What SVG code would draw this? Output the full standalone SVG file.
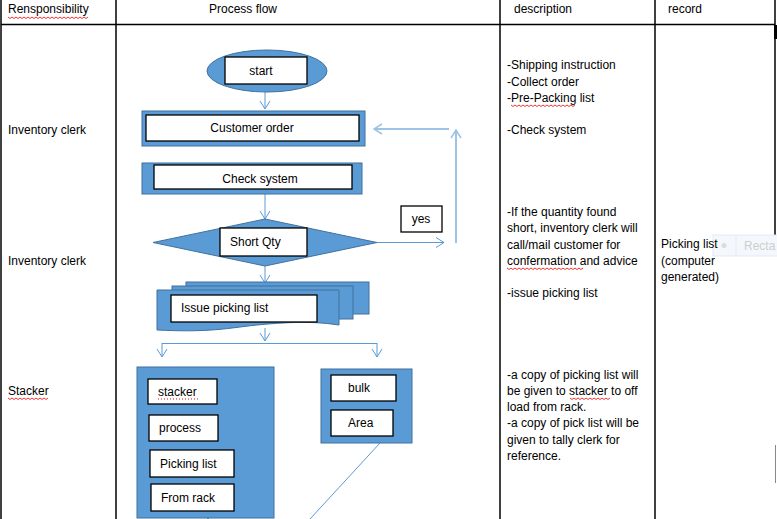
<svg xmlns="http://www.w3.org/2000/svg" width="777" height="519" viewBox="0 0 777 519">
<style>
text{font-family:"Liberation Sans",Arial,sans-serif;font-size:12px;fill:#000}
.grid{stroke:#000;stroke-width:1.5;fill:none}
.blue{fill:#5b9bd5;stroke:#41719c;stroke-width:1}
.box{fill:#fff;stroke:#000;stroke-width:1.3}
.con{stroke:#5b9bd5;stroke-width:1;fill:none}
.fb{stroke:#9dc3e6;stroke-width:2;fill:none}
.sq{stroke:#e00;stroke-width:0.8;fill:none}
</style>
<defs>
<marker id="ah" markerUnits="userSpaceOnUse" markerWidth="14" markerHeight="14" refX="9" refY="6" orient="auto">
<path d="M1,1 L9,6 L1,11" fill="none" stroke="#5b9bd5" stroke-width="1"/>
</marker>
<marker id="ahl" markerUnits="userSpaceOnUse" markerWidth="14" markerHeight="14" refX="9" refY="6" orient="auto">
<path d="M1,1 L9,6 L1,11" fill="none" stroke="#9dc3e6" stroke-width="1.5"/>
</marker>
</defs>

<g id="table">
<line class="grid" x1="1" y1="0" x2="1" y2="519"/>
<line class="grid" x1="116" y1="0" x2="116" y2="519"/>
<line class="grid" x1="500" y1="0" x2="500" y2="519"/>
<line class="grid" x1="655" y1="0" x2="655" y2="519"/>
<line class="grid" x1="775" y1="0" x2="775" y2="235"/>
<line x1="775.5" y1="445" x2="775.5" y2="483" stroke="#888" stroke-width="1"/>
<line class="grid" x1="1" y1="24.5" x2="775" y2="24.5"/>
<rect x="774" y="25" width="3" height="14" fill="#000"/>
<text x="8" y="13">Rensponsibility</text>
<text x="209" y="13">Process flow</text>
<text x="514" y="13">description</text>
<text x="668" y="13">record</text>
<path class="sq" d="M8,17 l2,1.5 l2,-1.5 l2,1.5 l2,-1.5 l2,1.5 l2,-1.5 l2,1.5 l2,-1.5 l2,1.5 l2,-1.5 l2,1.5 l2,-1.5 l2,1.5 l2,-1.5 l2,1.5 l2,-1.5 l2,1.5 l2,-1.5 l2,1.5 l2,-1.5 l2,1.5 l2,-1.5 l2,1.5 l2,-1.5 l2,1.5 l2,-1.5 l2,1.5 l2,-1.5 l2,1.5 l2,-1.5 l2,1.5 l2,-1.5 l2,1.5 l2,-1.5 l2,1.5 l2,-1.5 l2,1.5 l2,-1.5 l2,1.5 l2,-1.5"/>
</g>

<g id="responsibility">
<text x="8" y="134">Inventory clerk</text>
<text x="8" y="265">Inventory clerk</text>
<text x="8" y="395">Stacker</text>
<path class="sq" d="M8,398 l2,1.5 l2,-1.5 l2,1.5 l2,-1.5 l2,1.5 l2,-1.5 l2,1.5 l2,-1.5 l2,1.5 l2,-1.5 l2,1.5 l2,-1.5 l2,1.5 l2,-1.5 l2,1.5 l2,-1.5 l2,1.5 l2,-1.5 l2,1.5 l2,-1.5"/>
</g>

<g id="description">
<text x="507" y="69">-Shipping instruction</text>
<text x="507" y="86">-Collect order</text>
<text x="507" y="102">-Pre-Packing list</text>
<path class="sq" d="M511,105 l2,1.5 l2,-1.5 l2,1.5 l2,-1.5 l2,1.5 l2,-1.5 l2,1.5 l2,-1.5 l2,1.5 l2,-1.5 l2,1.5 l2,-1.5 l2,1.5 l2,-1.5 l2,1.5 l2,-1.5 l2,1.5 l2,-1.5 l2,1.5 l2,-1.5 l2,1.5 l2,-1.5 l2,1.5 l2,-1.5 l2,1.5 l2,-1.5 l2,1.5 l2,-1.5 l2,1.5 l2,-1.5 l2,1.5 l2,-1.5"/>
<text x="507" y="134">-Check system</text>
<text x="507" y="216">-If the quantity found</text>
<text x="507" y="232">short, inventory clerk will</text>
<text x="507" y="249">call/mail customer for</text>
<text x="507" y="265">confermation and advice</text>
<path class="sq" d="M507,268 l2,1.5 l2,-1.5 l2,1.5 l2,-1.5 l2,1.5 l2,-1.5 l2,1.5 l2,-1.5 l2,1.5 l2,-1.5 l2,1.5 l2,-1.5 l2,1.5 l2,-1.5 l2,1.5 l2,-1.5 l2,1.5 l2,-1.5 l2,1.5 l2,-1.5 l2,1.5 l2,-1.5 l2,1.5 l2,-1.5 l2,1.5 l2,-1.5 l2,1.5 l2,-1.5 l2,1.5 l2,-1.5 l2,1.5 l2,-1.5 l2,1.5 l2,-1.5 l2,1.5 l2,-1.5 l2,1.5 l2,-1.5"/>
<text x="507" y="297">-issue picking list</text>
<text x="507" y="379">-a copy of picking list will</text>
<text x="507" y="395">be given to stacker to off</text>
<path class="sq" d="M570,398 l2,1.5 l2,-1.5 l2,1.5 l2,-1.5 l2,1.5 l2,-1.5 l2,1.5 l2,-1.5 l2,1.5 l2,-1.5 l2,1.5 l2,-1.5 l2,1.5 l2,-1.5 l2,1.5 l2,-1.5 l2,1.5 l2,-1.5 l2,1.5 l2,-1.5"/>
<text x="507" y="411">load from rack.</text>
<text x="507" y="427">-a copy of pick list will be</text>
<text x="507" y="444">given to tally clerk for</text>
<text x="507" y="460">reference.</text>
</g>

<g id="record">
<g id="tooltip" opacity="0.9">
<rect x="713" y="235" width="66" height="21" fill="#f3f8fd" stroke="#dde9f6" stroke-width="1"/>
<line x1="736" y1="235" x2="736" y2="256" stroke="#dde9f6"/>
<circle cx="724" cy="245.5" r="2.5" fill="#d8d8d8"/>
<text x="744" y="250" style="fill:#c9c9c9;font-size:12px">Recta</text>
</g>
<text x="661" y="248">Picking list</text>
<text x="661" y="265">(computer</text>
<text x="661" y="281">generated)</text>
</g>

<g id="connectors">
<line class="con" x1="265" y1="92" x2="265" y2="109" marker-end="url(#ah)"/>
<line class="con" x1="265" y1="194" x2="265" y2="219" marker-end="url(#ah)"/>
<line class="con" x1="377" y1="242.5" x2="444" y2="242.5" marker-end="url(#ah)"/>
<line class="fb" x1="456" y1="243" x2="456" y2="130" marker-end="url(#ahl)"/>
<line class="fb" x1="449" y1="129" x2="374" y2="129" marker-end="url(#ahl)"/>
<line class="con" x1="265" y1="266" x2="265" y2="283" marker-end="url(#ah)"/>
<line class="con" x1="265" y1="328" x2="265" y2="341" marker-end="url(#ah)"/>
<line class="con" x1="162" y1="343.5" x2="377" y2="343.5"/>
<line class="con" x1="162" y1="343" x2="162" y2="357" marker-end="url(#ah)"/>
<line class="con" x1="377" y1="343" x2="377" y2="357" marker-end="url(#ah)"/>
<line class="con" x1="380" y1="443" x2="310" y2="519"/>
<path class="con" d="M204,515 L208,519 L212,515"/>
</g>

<g id="start">
<ellipse class="blue" cx="267" cy="71" rx="60" ry="21"/>
<rect class="box" x="225" y="57" width="82" height="27"/>
<text x="261" y="75" text-anchor="middle">start</text>
</g>

<g id="customer-order">
<rect class="blue" x="142" y="111" width="223" height="35"/>
<rect class="box" x="146" y="115" width="213" height="26"/>
<text x="252" y="132" text-anchor="middle">Customer order</text>
</g>

<g id="check-system">
<rect class="blue" x="142" y="163" width="220" height="31"/>
<rect class="box" x="154" y="165" width="198" height="24"/>
<text x="260" y="183" text-anchor="middle">Check system</text>
</g>

<g id="short-qty">
<polygon class="blue" points="265,219 377,242.5 265,266 153,242.5"/>
<rect class="box" x="220" y="228" width="87" height="28"/>
<text x="230" y="246">Short Qty</text>
</g>

<g id="yes">
<rect class="box" x="401" y="206" width="41" height="26"/>
<text x="421" y="223" text-anchor="middle">yes</text>
</g>

<g id="issue-picking-list">
<rect class="blue" x="186" y="282" width="183" height="32"/>
<rect class="blue" x="172" y="286" width="181" height="33"/>
<path class="blue" d="M157,290 H339 V325 C310,320 270,323 240,327 C205,332 180,331 157,330 Z"/>
<rect class="box" x="171" y="295" width="146" height="27"/>
<text x="181" y="312">Issue picking list</text>
</g>

<g id="stacker-group">
<rect class="blue" x="137" y="367" width="137" height="151"/>
<rect class="box" x="148" y="379" width="69" height="25"/>
<text x="158" y="396">stacker</text>
<path d="M158,399 H198" stroke="#e00" stroke-width="1" stroke-dasharray="1,2"/>
<rect class="box" x="149" y="415" width="69" height="26"/>
<text x="159" y="432">process</text>
<rect class="box" x="150" y="450" width="84" height="27"/>
<text x="160" y="468">Picking list</text>
<rect class="box" x="151" y="484" width="83" height="27"/>
<text x="161" y="502">From rack</text>
</g>

<g id="bulk-area">
<rect class="blue" x="321" y="369" width="91" height="74"/>
<rect class="box" x="331" y="375" width="65" height="26"/>
<text x="348" y="392">bulk</text>
<rect class="box" x="331" y="410" width="62" height="26"/>
<text x="348" y="427">Area</text>
</g>
</svg>
